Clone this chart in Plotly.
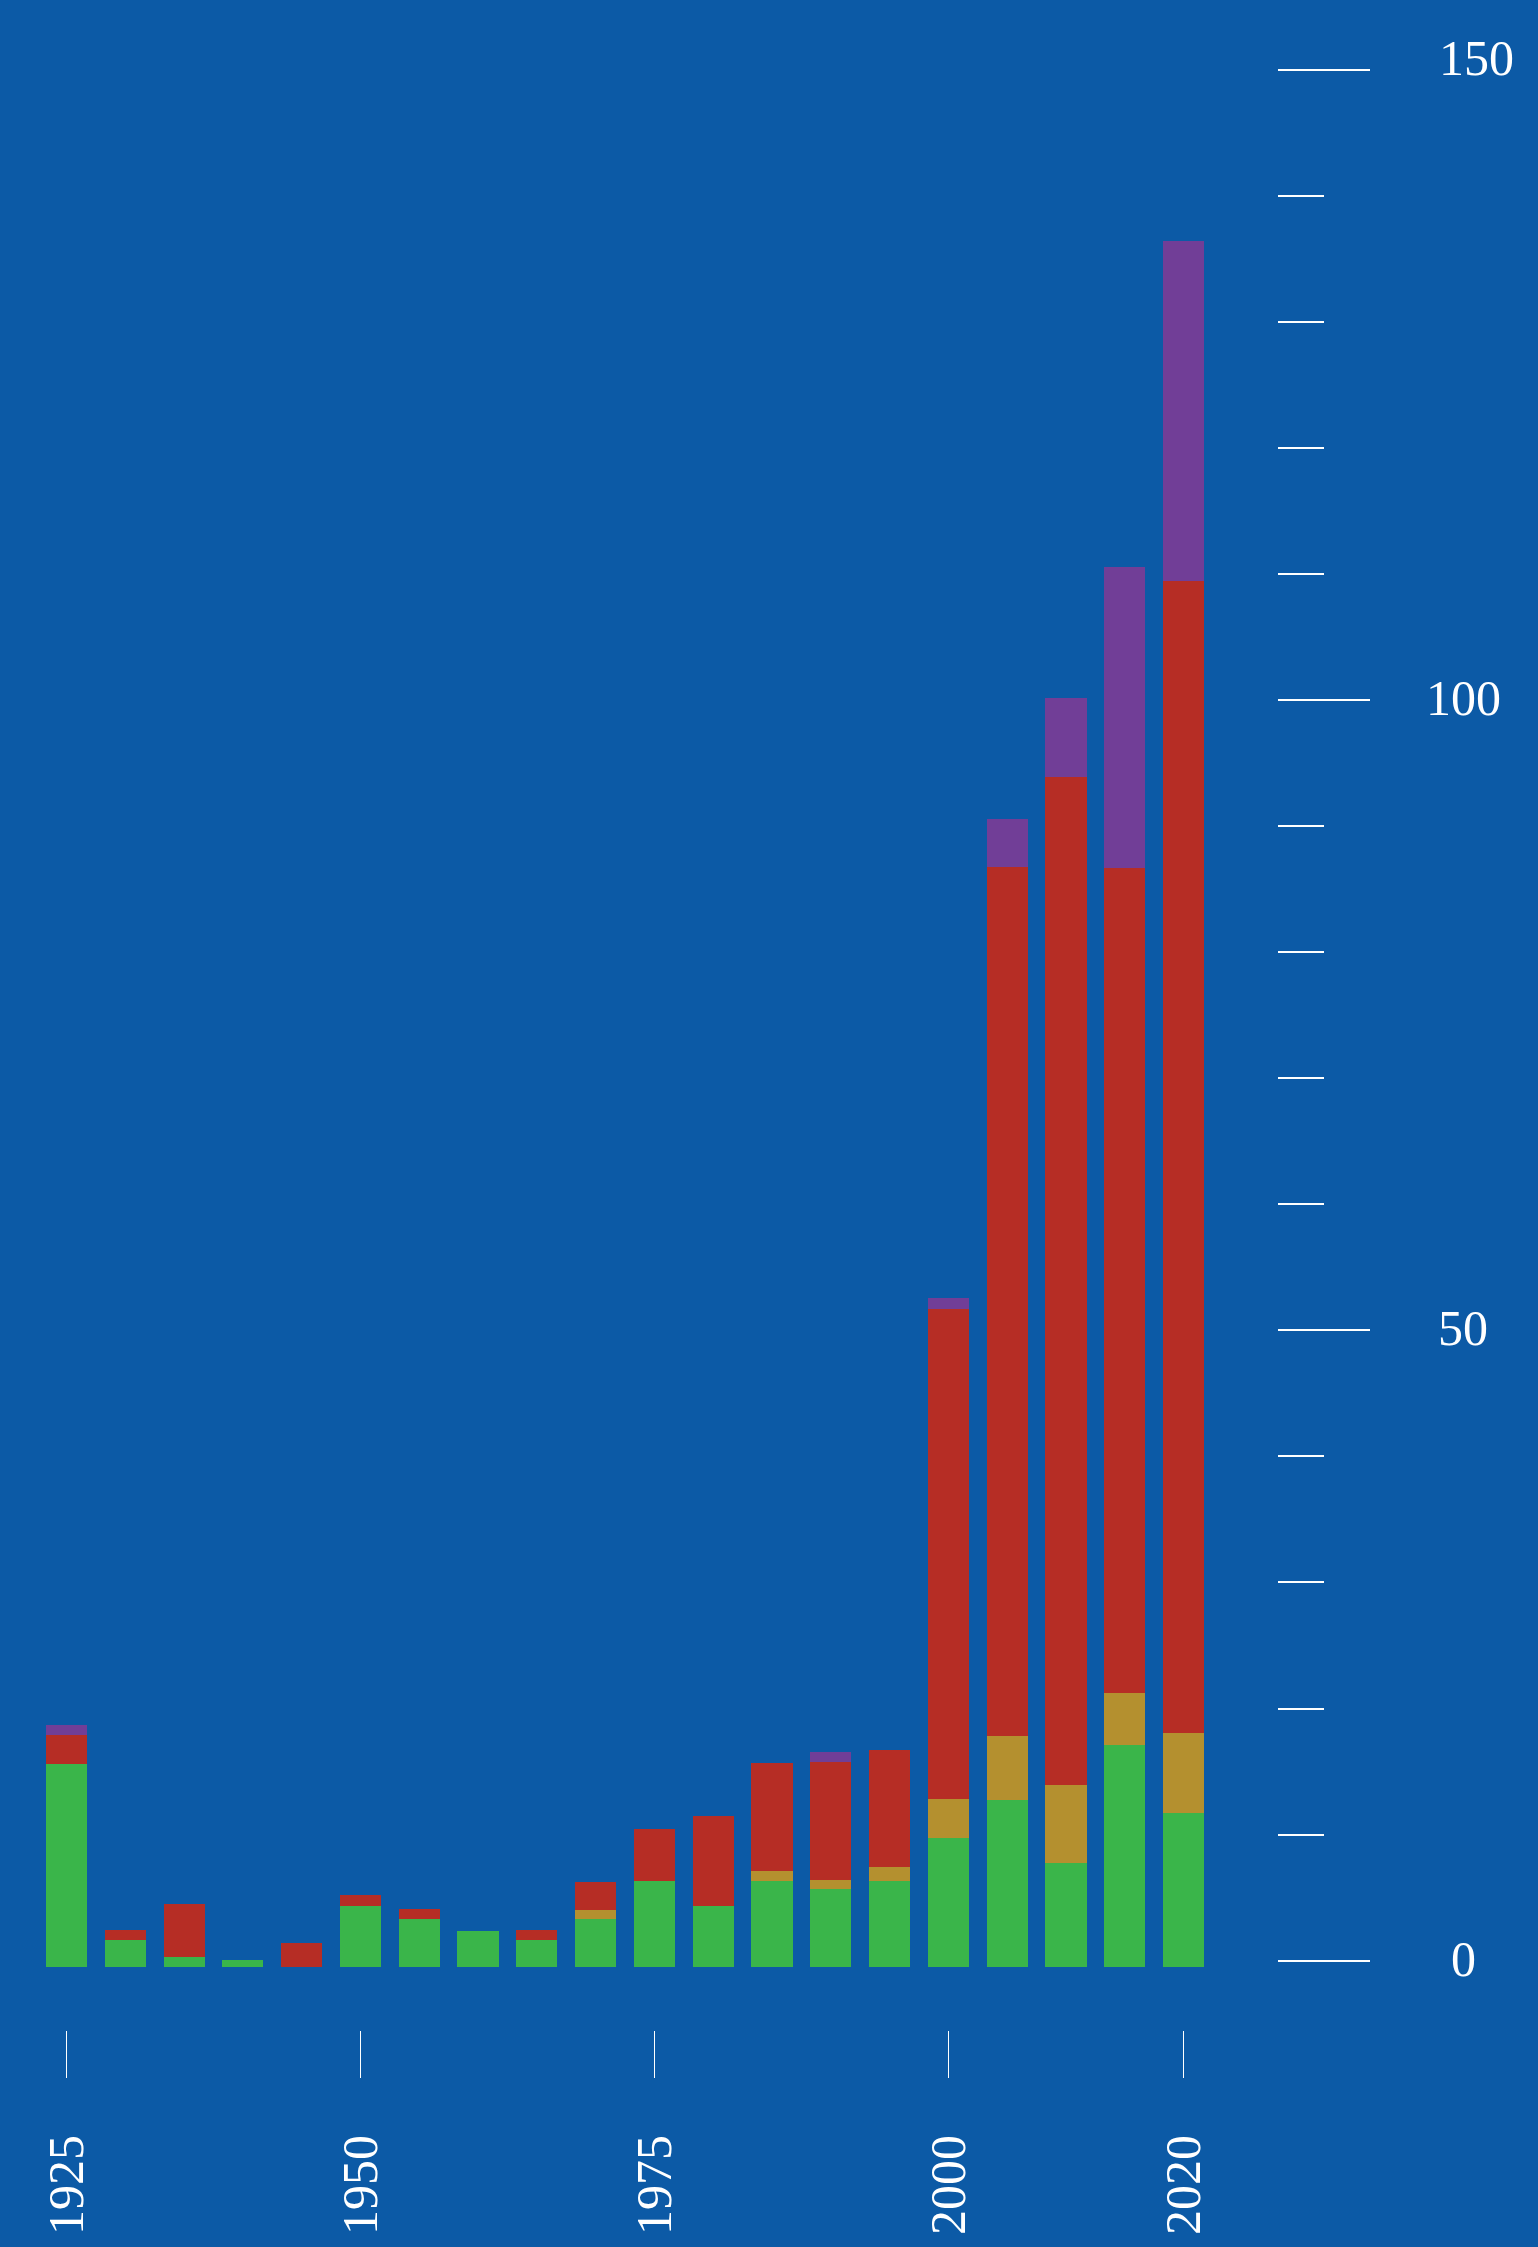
import plotly.graph_objects as go

# Five-year intervals
years = [1925, 1930, 1935, 1940, 1945, 1950, 1955, 1960, 1965, 1970,
         1975, 1980, 1985, 1990, 1995, 2000, 2005, 2010, 2015, 2020]

# Stacked components, bottom to top
green_vals = [16.1, 2.1, 0.8, 0.5, 0.0, 4.8, 3.8, 2.8, 2.1, 3.8,
              6.8, 4.8, 6.8, 6.2, 6.8, 10.2, 13.25, 8.2, 17.6, 12.2]
gold_vals = [0.0, 0.0, 0.0, 0.0, 0.0, 0.0, 0.0, 0.0, 0.0, 0.7,
             0.0, 0.0, 0.8, 0.7, 1.1, 3.1, 5.05, 6.25, 4.1, 6.3]
red_vals = [2.25, 0.8, 4.2, 0.0, 1.85, 0.85, 0.8, 0.0, 0.8, 2.2,
            4.1, 7.15, 8.55, 9.3, 9.3, 38.85, 68.9, 79.9, 65.45, 91.4]
purple_vals = [0.85, 0.0, 0.0, 0.0, 0.0, 0.0, 0.0, 0.0, 0.0, 0.0,
               0.0, 0.0, 0.0, 0.85, 0.0, 0.9, 3.85, 6.25, 23.85, 27.0]

x_tick_vals = [1925, 1950, 1975, 2000, 2020]
x_tick_text = ["1925", "1950", "1975", "2000", "2020"]
y_tick_vals = [0, 50, 100, 150]
y_tick_text = ["0", "50", "100", "150"]

BG = "#0c5aa6"
FONT = "Liberation Serif"
series = [
    ("green", green_vals, "#3ab54a"),
    ("gold", gold_vals, "#b4902f"),
    ("red", red_vals, "#b62d25"),
    ("purple", purple_vals, "#713e97"),
]

fig = go.Figure()
for name, vals, color in series:
    fig.add_trace(go.Bar(
        x=years, y=vals, name=name, width=3.5,
        marker=dict(color=color, line=dict(width=0)),
        showlegend=False, hoverinfo="x+y",
    ))

# empty trace so the right-hand tick axis is laid out
fig.add_trace(go.Scatter(x=[], y=[], yaxis="y2", showlegend=False, hoverinfo="skip"))

fig.update_layout(
    width=1538, height=2247, autosize=False,
    margin=dict(l=0, r=261, t=0, b=217, pad=0),
    paper_bgcolor=BG, plot_bgcolor=BG,
    barmode="stack", bargap=0,
    font=dict(family=FONT, color="white", size=50),
    xaxis=dict(
        range=[1919.34, 2027.95],
        showgrid=False, zeroline=False, showline=False,
        tickmode="array", tickvals=x_tick_vals, ticktext=x_tick_text,
        ticks="outside", ticklen=47, tickwidth=1, tickcolor="white",
        tickangle=-90, ticklabelstandoff=37,
        tickfont=dict(family=FONT, size=50, color="white"),
    ),
    yaxis=dict(
        range=[-5.021, 156.0], visible=False, fixedrange=True,
    ),
    yaxis2=dict(
        overlaying="y", side="right", anchor="x",
        range=[-5.497, 155.525],
        showgrid=False, zeroline=False, showline=False,
        tickmode="array", tickvals=y_tick_vals, showticklabels=False,
        ticks="outside", ticklen=92, tickwidth=1.5, tickcolor="white",
        minor=dict(tick0=0, dtick=10, ticks="outside", ticklen=46,
                   tickwidth=1.5, tickcolor="white", showgrid=False),
    ),
)

# y labels centred to the right of the tick marks
for v, t in zip(y_tick_vals, y_tick_text):
    top = v == max(y_tick_vals)
    fig.add_annotation(
        x=1.1457, xref="paper", y=v, yref="y2",
        text=t, showarrow=False, xanchor="center", yanchor="middle",
        xshift=13 if top else 0, yshift=12 if top else 2,
        font=dict(family=FONT, size=50, color="white"),
    )

fig.write_html("out.html")
